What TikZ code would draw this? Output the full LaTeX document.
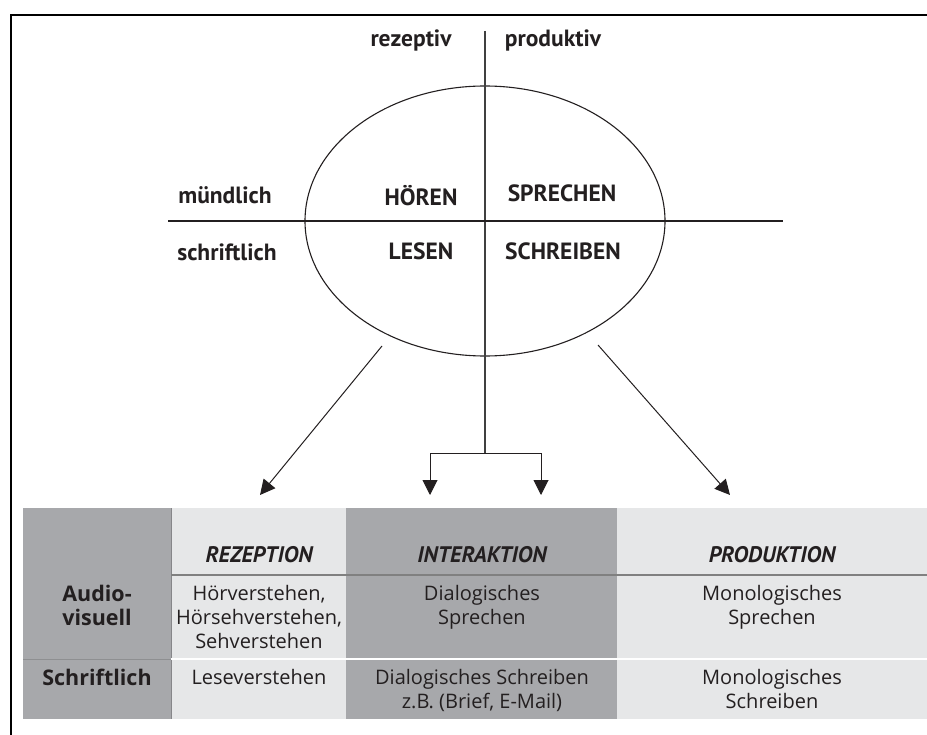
\documentclass[tikz,border=0pt]{standalone}
\usepackage{fontspec}
\setmainfont{Open Sans}
\newfontfamily\labfont{PT Sans}
\usetikzlibrary{arrows.meta,shapes.geometric}
\definecolor{dkgray}{HTML}{A7A8AB}
\definecolor{ltgray}{HTML}{E6E7E8}
\definecolor{lnclr}{HTML}{231F20}
\begin{document}
\begin{tikzpicture}[x=1pt,y=-1pt,
  lab/.style={font=\labfont\bfseries\fontsize{23.5}{26}\selectfont, inner sep=0, text=lnclr},
  hdr/.style={font=\labfont\bfseries\itshape\fontsize{22.5}{26}\selectfont, inner sep=0, text=lnclr},
  cell/.style={font=\fontsize{20}{24}\selectfont, align=center, inner sep=0, anchor=north, text=lnclr},
  rowlab/.style={font=\bfseries\fontsize{21.5}{24}\selectfont, align=center, inner sep=0, anchor=north, text=lnclr},
  conn/.style={draw=lnclr, line width=1pt, -{Triangle[length=15pt,width=15pt]}},
  thin/.style={draw=lnclr, line width=1.1pt},
]
\useasboundingbox (0,0) rectangle (927,735);
% frame
\draw[line width=2.5pt] (11,735) -- (11,15) -- (927,15);
% table backgrounds
\fill[dkgray] (23,508) rectangle (171,719);
\fill[ltgray] (171,508) rectangle (346,719);
\fill[dkgray] (346,508) rectangle (617,719);
\fill[ltgray] (617,508) rectangle (927,719);
\draw[dkgray!80!black, line width=0.8pt] (171,508) -- (171,719);
\draw[gray, line width=1.2pt] (171,575) -- (927,575);
\draw[dkgray!85!black, line width=1pt] (23,659) -- (171,659);
\draw[white, line width=1.2pt] (171,659) -- (927,659);
% ellipse and axes
\node[draw=lnclr, line width=1.1pt, ellipse, minimum width=360pt, minimum height=270pt, inner sep=0] (E) at (485,221) {};
\coordinate (vtop) at (485,31);
\coordinate (vbot) at (485,453);
\coordinate (hl) at (168,221);
\coordinate (hr) at (783,221);
\draw[draw=black!75, line width=1.5pt] (vtop) -- (vbot);
\draw[thin] (hl) -- (hr);
% labels
\node[lab] (rez) at (411,40) {rezeptiv};
\node[lab] (prod) at (553,40) {produktiv};
\node[lab] (mue) at (225,195) {mündlich};
\node[lab] (schr) at (227,252) {schriftlich};
\node[lab] (hoer) at (421,196) {HÖREN};
\node[lab] (spr) at (562,193) {SPRECHEN};
\node[lab] (les) at (421,251) {LESEN};
\node[lab] (schb) at (563,251) {SCHREIBEN};
% arrows
\coordinate (ls) at (382,346);
\coordinate (lt) at (260,495);
\coordinate (rs) at (598,345);
\coordinate (rt) at (730,495);
\coordinate (bl) at (430,453);
\coordinate (br) at (541,453);
\coordinate (blt) at (430,495);
\coordinate (brt) at (541,495);
\draw[conn] (ls) -- (lt);
\draw[conn] (rs) -- (rt);
\draw[conn] (vbot) -- (bl) -- (blt);
\draw[conn] (vbot) -- (br) -- (brt);
% table headers
\node[hdr] (h1) at (259,555) {REZEPTION};
\node[hdr] (h2) at (482,555) {INTERAKTION};
\node[hdr] (h3) at (772,555) {PRODUKTION};
% row 1
\node[rowlab] (r1) at (97,585) {Audio-\\visuell};
\node[cell] (c11) at (259,585) {Hörverstehen,\\Hörsehverstehen,\\Sehverstehen};
\node[cell] (c12) at (482,585) {Dialogisches\\Sprechen};
\node[cell] (c13) at (772,585) {Monologisches\\Sprechen};
% row 2
\node[rowlab] (r2) at (97,669) {Schriftlich};
\node[cell] (c21) at (259,669) {Leseverstehen};
\node[cell] (c22) at (482,669) {Dialogisches Schreiben\\z.B. (Brief, E-Mail)};
\node[cell] (c23) at (772,669) {Monologisches\\Schreiben};
\end{tikzpicture}
\end{document}
